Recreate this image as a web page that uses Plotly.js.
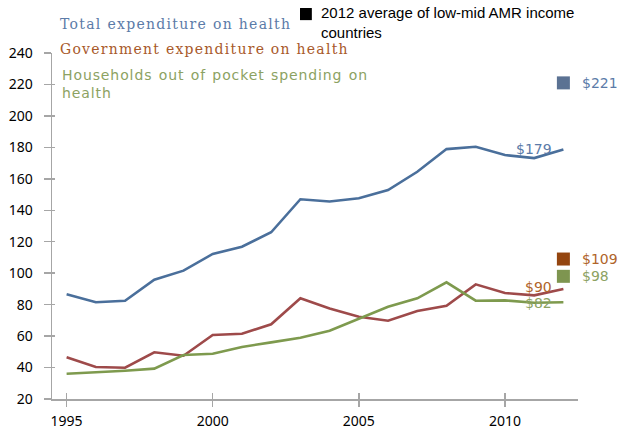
<!DOCTYPE html>
<html><head><meta charset="utf-8">
<script src="https://cdn.plot.ly/plotly-3.0.1.min.js"></script>
<style>html,body{margin:0;padding:0;background:#fff}#chart{width:624px;height:429px}
.annotation[data-index="6"] text{letter-spacing:1.3px}
.annotation[data-index="7"] text{letter-spacing:1.25px}
.annotation[data-index="8"] text{letter-spacing:0.9px;word-spacing:1px}
</style>
</head><body><div id="chart"></div>
<script>
const years = [1995,1996,1997,1998,1999,2000,2001,2002,2003,2004,2005,2006,2007,2008,2009,2010,2011,2012];
const totalExp = [86.6,81.5,82.5,95.8,101.6,112.2,116.8,126.0,147.0,145.6,147.6,152.9,164.5,178.9,180.4,175.1,173.2,178.7];
const govExp   = [46.5,40.3,39.9,49.7,47.5,60.7,61.5,67.5,84.0,77.5,72.3,69.8,75.9,79.3,92.9,87.4,85.9,89.9];
const oopExp   = [36.1,37.0,38.0,39.3,48.0,48.8,53.1,56.0,59.0,63.4,71.3,78.7,84.0,94.2,82.5,82.7,81.2,81.5];
const avgYear = 2012;
const avgValues = [221,109,98];
const avgLabels = ['$221','$109','$98'];
const lastLabels = ['$179','$90','$82'];
const seriesNames = ['Total expenditure on health','Government expenditure on health','Households out of pocket spending on<br>health'];
const avgLegendText = '2012 average of low-mid AMR income<br>countries';

const lineColors = ['#4A6F9B','#9E4A4A','#7E9A4E'];
const textColors = ['#5B7BA8','#A8592A','#8CA262'];
const squareColors = ['#5B7293','#94450F','#7E9550'];
const avgTextColors = ['#5B7BA8','#B0652A','#8CA262'];

const series = [totalExp, govExp, oopExp];
const traces = series.map((s,i)=>({x:years,y:s,type:'scatter',mode:'lines',line:{color:lineColors[i],width:2.6},hoverinfo:'skip'}));
traces.push({x:avgValues.map(()=>avgYear),y:avgValues,type:'scatter',mode:'markers',
  marker:{symbol:'square',size:13,color:squareColors,line:{width:0}},hoverinfo:'skip'});
traces.push({x:[],y:[],xaxis:'x2',yaxis:'y2',type:'scatter',mode:'lines',hoverinfo:'skip'});

const ann = [];
const labelShifts = [0,2,-1];
series.forEach((s,i)=>{
  ann.push({x:years[years.length-1],y:s[s.length-1],xref:'x',yref:'y',text:lastLabels[i],showarrow:false,
    xanchor:'right',yanchor:'middle',xshift:-9,yshift:labelShifts[i],font:{family:'DejaVu Sans',size:14,color:avgTextColors[i]}});
});
avgValues.forEach((v,i)=>{
  ann.push({x:avgYear,y:v,xref:'x',yref:'y',text:avgLabels[i],showarrow:false,xanchor:'left',yanchor:'middle',xshift:17,
    font:{family:'DejaVu Sans',size:14,color:avgTextColors[i]}});
});
ann.push({xref:'paper',yref:'paper',x:0.012,y:1.084,text:seriesNames[0],showarrow:false,xanchor:'left',yanchor:'middle',align:'left',
  font:{family:'DejaVu Serif',size:14,color:textColors[0]}});
ann.push({xref:'paper',yref:'paper',x:0.012,y:1.012,text:seriesNames[1],showarrow:false,xanchor:'left',yanchor:'middle',align:'left',
  font:{family:'DejaVu Serif',size:14,color:textColors[1]}});
ann.push({xref:'paper',yref:'paper',x:0.015,y:0.91,text:seriesNames[2],showarrow:false,xanchor:'left',yanchor:'middle',align:'left',
  font:{family:'DejaVu Sans',size:14,color:textColors[2]}});
ann.push({xref:'paper',yref:'paper',x:0.507,y:1.088,text:avgLegendText,showarrow:false,xanchor:'left',yanchor:'middle',align:'left',
  font:{family:'Liberation Sans',size:15,color:'#000'}});

const axCommon = {showgrid:false,zeroline:false,tickcolor:'#a6a6a6',tickwidth:1.5};
const layout = {
  width:624,height:429,
  margin:{l:52,r:46,t:53,b:30},
  paper_bgcolor:'#fff',plot_bgcolor:'#fff',
  showlegend:false,
  xaxis:Object.assign({range:[1994.5,2012.5],tickmode:'linear',tick0:1995,dtick:5,
    showline:true,linecolor:'#a6a6a6',linewidth:1.5,ticks:'outside',ticklen:6,ticklabelstandoff:3,
    tickfont:{family:'Noto Sans',size:14,color:'#000'}},axCommon),
  yaxis:Object.assign({range:[20,240],tickmode:'linear',tick0:20,dtick:20,
    showline:true,linecolor:'#a6a6a6',linewidth:1.5,ticks:'outside',ticklen:7,ticklabelstandoff:8,
    tickfont:{family:'Noto Sans',size:14,color:'#000'}},axCommon),
  xaxis2:Object.assign({range:[1994.5,2012.5],tickmode:'linear',tick0:1995,dtick:5,overlaying:'x',anchor:'y2',
    showline:false,ticks:'inside',ticklen:6,showticklabels:false},axCommon),
  yaxis2:Object.assign({range:[20,240],tickmode:'linear',tick0:20,dtick:20,overlaying:'y',anchor:'x2',
    showline:false,ticks:'inside',ticklen:3,showticklabels:false},axCommon),
  shapes:[{type:'rect',xref:'paper',yref:'paper',x0:0.4715,x1:0.494,y0:1.095,y1:1.130,fillcolor:'#000',line:{width:0}}],
  annotations:ann
};
Plotly.newPlot('chart',traces,layout,{displayModeBar:false,staticPlot:true});
</script></body></html>
